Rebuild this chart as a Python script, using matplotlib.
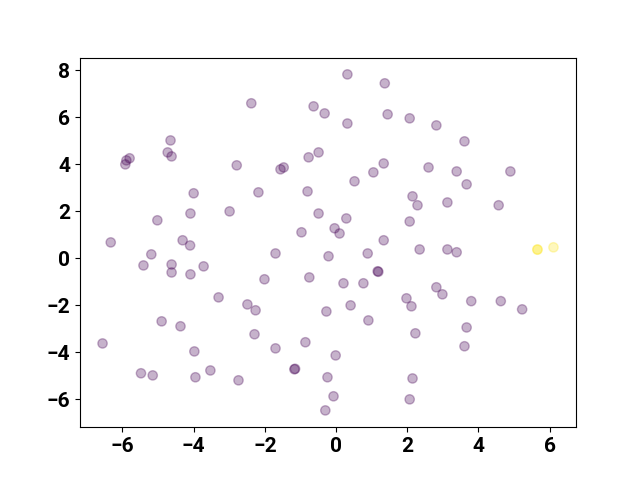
import matplotlib
matplotlib.use('Agg')
import matplotlib.pyplot as plt
import numpy as np

plt.rcParams['font.family'] = ['Roboto', 'DejaVu Sans']
plt.rcParams['font.weight'] = 'bold'

# point coordinates, label 0 = purple, 1 = yellow
x_vals = [0.32, 1.37, -2.38, -0.63, -0.32, 1.45, 2.07, 2.82, 0.32, -4.65,
          3.61, -4.73, -4.62, -0.49, -0.77, -5.89, -5.80, -5.92, 1.34, -2.79,
          -1.47, -1.56, 2.60, 3.39, 1.05, 4.90, 0.52, 3.67, -0.80, -4.00,
          -2.18, 2.15, 3.13, 2.29, 4.57, -2.99, -4.09, -0.49, 0.29, -5.02,
          2.07, -0.04, -0.97, 0.10, 1.34, -4.31, -6.33, -4.10, 2.35, 3.13,
          3.39, 0.89, -5.19, -1.70, -0.21, 5.66, 5.66, 6.11, -5.41, -4.62,
          -3.72, -4.62, -4.09, -2.01, -0.75, 1.17, 1.19, 0.21, 0.77, 2.82,
          2.99, 1.98, 3.80, 4.63, -3.30, -2.49, 0.41, -2.26, 2.12, 5.23,
          -0.27, 0.91, -4.90, -4.37, 3.67, 2.23, -2.29, -6.56, -0.86, 3.61,
          -3.98, -1.70, -0.01, -1.17, -1.15, -5.48, -5.15, -3.53, -3.95, -2.74,
          -0.24, 2.15, -0.07, 2.07, -0.30]
y_vals = [7.83, 7.45, 6.60, 6.47, 6.17, 6.13, 5.96, 5.66, 5.74, 5.02,
          4.98, 4.51, 4.34, 4.51, 4.30, 4.17, 4.26, 4.00, 4.04, 3.96,
          3.87, 3.79, 3.87, 3.70, 3.66, 3.70, 3.28, 3.15, 2.85, 2.77,
          2.81, 2.64, 2.38, 2.26, 2.26, 2.00, 1.91, 1.91, 1.70, 1.62,
          1.57, 1.28, 1.11, 1.06, 0.77, 0.77, 0.68, 0.55, 0.38, 0.38,
          0.26, 0.21, 0.17, 0.21, 0.09, 0.38, 0.37, 0.47, -0.30, -0.26,
          -0.34, -0.60, -0.68, -0.89, -0.81, -0.55, -0.57, -1.06, -1.06, -1.23,
          -1.53, -1.70, -1.82, -1.82, -1.66, -1.96, -2.00, -2.21, -2.04, -2.17,
          -2.26, -2.64, -2.68, -2.89, -2.94, -3.19, -3.23, -3.62, -3.57, -3.74,
          -3.96, -3.83, -4.13, -4.72, -4.70, -4.89, -4.98, -4.77, -5.06, -5.19,
          -5.06, -5.11, -5.87, -6.00, -6.47]
labels = [0] * len(x_vals)
labels[55] = 1
labels[56] = 1
labels[57] = 1

fig, ax = plt.subplots(figsize=(6.4, 4.8), dpi=100)
ax.scatter(x_vals, y_vals, c=labels, cmap='viridis', s=45, alpha=0.3)
ax.tick_params(axis='both', which='major', labelsize=15)
for lab in ax.get_xticklabels() + ax.get_yticklabels():
    lab.set_fontweight('bold')

plt.savefig('out.png', dpi=100)
